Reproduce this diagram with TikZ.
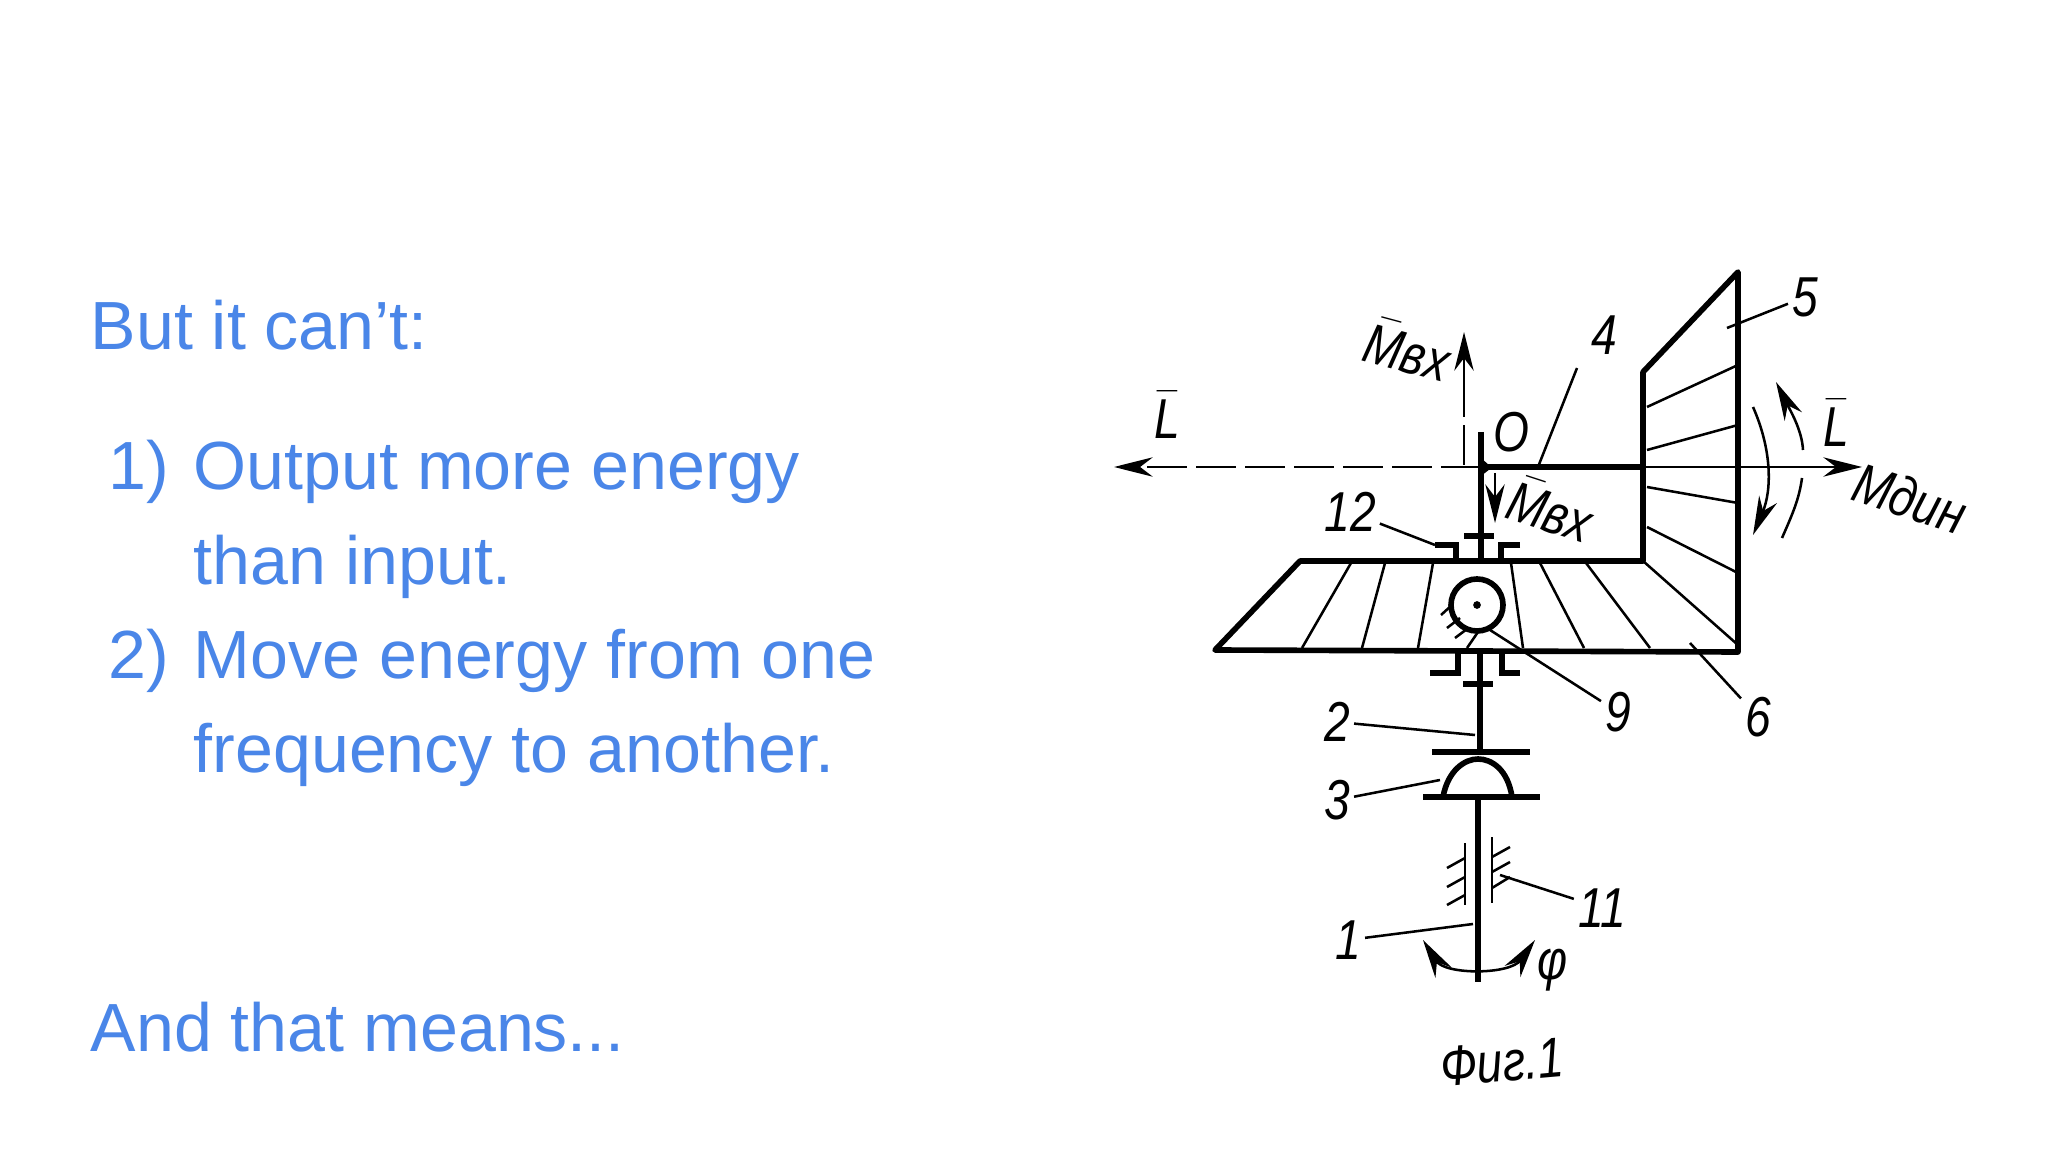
\documentclass[tikz,border=0pt]{standalone}
\usepackage{fontspec}
\setmainfont{Liberation Sans}
\newfontfamily\tagfont[FakeStretch=0.82]{Liberation Sans}
\usetikzlibrary{arrows.meta}
\definecolor{slideblue}{HTML}{4A86E8}
\newcommand{\barred}[1]{\ensuremath{\bar{\mbox{\itshape #1}}}}
\tikzset{
	slide/.style={anchor=base west, inner sep=0pt, text=slideblue, font=\fontsize{19.38}{23}\selectfont},
	tag/.style={inner sep=1pt, font=\fontsize{16}{19}\tagfont\itshape},
	heavy/.style={line width=1.6pt},
	light/.style={line width=0.72pt},
	tip/.style={-{Stealth[length=11pt,width=5.5pt]}}
}
\begin{document}
\begin{tikzpicture}[x=0.01cm,y=-0.01cm]
	\useasboundingbox (0,0) rectangle (2048,1152);

	\node[slide] (but) at (90,350) {But it can’t:};
	\node[slide,anchor=base east] (n1) at (170,490) {1)};
	\node[slide] (l1) at (193,490) {Output more energy};
	\node[slide] (l2) at (193,584) {than input.};
	\node[slide,anchor=base east] (n2) at (170,678) {2)};
	\node[slide] (l3) at (193,678) {Move energy from one};
	\node[slide] (l4) at (193,772) {frequency to another.};
	\node[slide] (end) at (90,1051) {And that means...};

	\coordinate (o) at (1481,467);
	\coordinate (w1) at (1643,372);
	\coordinate (w2) at (1738,272);
	\coordinate (w3) at (1738,652);
	\coordinate (w4) at (1215,650);
	\coordinate (w5) at (1300,561);
	\coordinate (w6) at (1643,561);

	\draw[heavy, line join=round] (w6) -- (w1) -- (w2) -- (w3) -- (w4) -- (w5) -- cycle;
	\draw[heavy] (o) -- (1643,467);
	\draw[heavy] (1481,432) -- (1481,561);
	\fill (1481,458) -- (1490,466) -- (1490,469) -- (1481,476) -- cycle;

	\foreach \a / \b / \c / \d in {
	1647/407/1738/365, 1647/450/1738/425, 1647/487/1738/503, 1647/527/1738/573, 1643/561/1738/645,
	1351/563/1302/648, 1385/563/1362/648, 1433/563/1418/648, 1511/563/1523/648,
	1540/563/1584/648, 1586/563/1650/648}
	{
		\draw[light] (\a,\b) -- (\c,\d);
	};

	\draw[heavy] (1464,536) -- (1494,536);
	\draw[heavy] (1435,545) -- (1456,545) -- (1456,561);
	\draw[heavy] (1520,545) -- (1501,545) -- (1501,561);

	\node[draw, circle, heavy, minimum size=52pt*0.2845, inner sep=0pt] (roll) at (1477,605) {};
	\fill (roll.center) circle [radius=1.1pt];
	\foreach \a / \b / \c / \d in {
	1441/615/1452/605, 1447/628/1460/618, 1455/638/1467/629, 1467/648/1478/632}
	{
		\draw[light] (\a,\b) -- (\c,\d);
	};

	\draw[heavy] (1480,650) -- (1480,752);
	\draw[heavy] (1458,650) -- (1458,673) -- (1430,673);
	\draw[heavy] (1502,650) -- (1502,673) -- (1520,673);
	\draw[heavy] (1463,684) -- (1493,684);
	\draw[heavy] (1432,752) -- (1530,752);
	\draw[heavy] (1443,797) .. controls (1448,770) and (1465,759) .. (1478,759) .. controls (1492,759) and (1508,770) .. (1512,797);
	\draw[heavy] (1423,797) -- (1540,797);
	\draw[heavy] (1478,797) -- (1478,982);

	\draw[light] (1465,843) -- (1465,905);
	\draw[light] (1492,837) -- (1492,903);
	\foreach \a / \b / \c / \d in {
	1447/868/1465/858, 1447/887/1465/877, 1447/905/1465/895,
	1492/857/1510/847, 1492/872/1510/862, 1492/888/1510/877}
	{
		\draw[light] (\a,\b) -- (\c,\d);
	};

	\draw[light, {Stealth[length=11pt,width=5.5pt]}-{Stealth[length=11pt,width=5.5pt]}] (1423,940) .. controls (1445,975) and (1510,975) .. (1535,940);

	\draw[light, dash pattern=on 40pt*0.2845 off 9pt*0.2845] (o) -- (1135,467);
	\draw[tip, light] (1140,467) -- (1114,467);
	\draw[tip, light] (o) -- (1862,467);
	\draw[light, dash pattern=on 40pt*0.2845 off 8pt*0.2845] (1464,465) -- (1464,380);
	\draw[tip, light] (1464,380) -- (1464,332);
	\draw[tip, light] (1495,473) -- (1495,523);

	\draw[tip, light] (1753,407) .. controls (1772,450) and (1772,490) .. (1753,535);
	\draw[light] (1782,538) .. controls (1792,515) and (1799,500) .. (1802,478);
	\draw[tip, light] (1803,450) .. controls (1802,430) and (1790,410) .. (1776,382);

	\node[tag] (t1) at (1348,940) {1};
	\node[tag] (t2) at (1337,722) {2};
	\node[tag] (t3) at (1337,800) {3};
	\node[tag] (t4) at (1604,335) {4};
	\node[tag] (t5) at (1805,297) {5};
	\node[tag] (t6) at (1758,717) {6};
	\node[tag] (t9) at (1618,712) {9};
	\node[tag] (t11) at (1602,908) {11};
	\node[tag] (t12) at (1350,512) {12};
	\node[tag] (tO) at (1511,432) {O};
	\node[tag] (tphi) at (1553,970) {φ};
	\node[tag] (tLl) at (1167,415) {\barred{L}};
	\node[tag] (tLr) at (1836,423) {\barred{L}};
	\node[tag, rotate=-15] (tMu) at (1408,349) {\barred{M}вх};
	\node[tag, rotate=-18] (tMd) at (1551,509) {\barred{M}вх};
	\node[tag, rotate=-18] (tMi) at (1910,498) {Mдин};
	\node[tag, rotate=5] (fig) at (1502,1062) {Фиг.1};

	\coordinate (c1) at (1473,924);
	\coordinate (c2) at (1475,735);
	\coordinate (c3) at (1440,780);
	\coordinate (c5) at (1727,328);
	\coordinate (c6) at (1690,643);
	\coordinate (c9) at (1490,630);
	\coordinate (c11) at (1500,875);
	\coordinate (c12) at (1435,545);

	\foreach \i in {1,2,3,5,6,9,11,12}
	{
		\draw[light] (t\i) -- (c\i);
	};

	\coordinate (c4a) at (1577,368);
	\coordinate (c4b) at (1538,467);
	\draw[light] (c4a) -- (c4b);
\end{tikzpicture}
\end{document}
